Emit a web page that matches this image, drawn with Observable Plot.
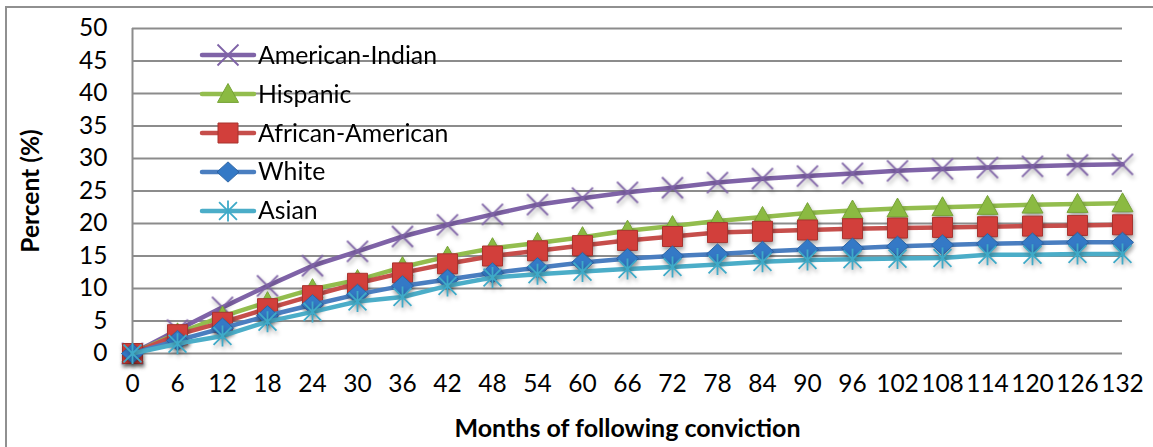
<!DOCTYPE html>
<html>
<head>
<meta charset="utf-8">
<script src="https://cdn.jsdelivr.net/npm/d3@7"></script>
<script src="https://cdn.jsdelivr.net/npm/@observablehq/plot@0.6"></script>
<style>
  html, body { margin: 0; padding: 0; background: #fff; overflow: hidden; }
  #wrap { position: relative; width: 1153px; height: 447px; font-family: Lato, "Open Sans", sans-serif; }
  #border { position: absolute; left: 5px; top: 6px; width: 1200px; height: 480px; border: 2px solid #909090; box-sizing: border-box; pointer-events: none; }
  #chart { position: absolute; left: 0; top: 0; }
  #legend { position: absolute; left: 199px; top: 36px; }
  .row { display: flex; align-items: center; height: 38.8px; }
  .row svg { display: block; overflow: visible; }
  .row span { font-size: 24.8px; color: #000; margin-left: 1px; line-height: 1; }
</style>
</head>
<body>
<div id="wrap">
  <div id="border"></div>
  <div id="chart"></div>
  <div id="legend"></div>
</div>
<script>
// ---- data ----
const months = [0, 6, 12, 18, 24, 30, 36, 42, 48, 54, 60, 66, 72, 78, 84, 90, 96, 102, 108, 114, 120, 126, 132];
const americanIndian = [0, 3.6, 7.1, 10.4, 13.5, 15.7, 18.0, 19.8, 21.4, 22.9, 23.9, 24.8, 25.5, 26.3, 26.9, 27.3, 27.7, 28.1, 28.4, 28.6, 28.8, 29.0, 29.1];
const hispanic       = [0, 3.1, 5.7, 7.9, 9.9, 11.3, 13.3, 14.9, 16.2, 17.0, 17.9, 18.9, 19.6, 20.4, 21.0, 21.6, 22.0, 22.3, 22.5, 22.7, 22.9, 23.0, 23.1];
const africanAmerican= [0, 2.9, 4.8, 6.9, 8.9, 10.8, 12.4, 13.8, 15.0, 15.8, 16.6, 17.4, 18.0, 18.6, 18.8, 19.0, 19.2, 19.3, 19.4, 19.5, 19.6, 19.7, 19.8];
const white          = [0, 2.0, 3.9, 5.8, 7.5, 9.1, 10.4, 11.4, 12.4, 13.2, 14.0, 14.6, 15.0, 15.3, 15.7, 16.0, 16.2, 16.5, 16.7, 16.9, 17.0, 17.1, 17.1];
const asian          = [0, 1.5, 2.7, 4.9, 6.4, 8.0, 8.7, 10.4, 11.7, 12.2, 12.6, 13.0, 13.3, 13.7, 14.1, 14.4, 14.5, 14.6, 14.7, 15.2, 15.2, 15.3, 15.3];
const seriesNames = ["American-Indian", "Hispanic", "African-American", "White", "Asian"];
const yTicks = [0, 5, 10, 15, 20, 25, 30, 35, 40, 45, 50];
const xTitle = "Months of following conviction";
const yTitle = "Percent (%)";

// ---- styles ----
const seriesValues = [americanIndian, hispanic, africanAmerican, white, asian];
const lineColors = ["#7F63A7", "#93BD4E", "#C64E4B", "#4A7EC0", "#4BADC8"];

function rOf(size) { return Math.sqrt(size / Math.PI); }
const symTimes = { draw(c, s) { const r = rOf(s); c.moveTo(-r, -r); c.lineTo(r, r); c.moveTo(-r, r); c.lineTo(r, -r); } };
const symTri = { draw(c, s) { const r = rOf(s); c.moveTo(0, -r); c.lineTo(r, r * 0.8); c.lineTo(-r, r * 0.8); c.closePath(); } };
const symSquare = { draw(c, s) { const r = rOf(s); c.rect(-r, -r, 2 * r, 2 * r); } };
const symDiamond = { draw(c, s) { const r = rOf(s); c.moveTo(0, -r * 0.92); c.lineTo(r, 0); c.lineTo(0, r * 0.92); c.lineTo(-r, 0); c.closePath(); } };
const symAst = { draw(c, s) { const r = rOf(s); const d = r * 0.85; c.moveTo(0, -r); c.lineTo(0, r); c.moveTo(-d, -d); c.lineTo(d, d); c.moveTo(-d, d); c.lineTo(d, -d); } };

const markerStyles = [
  { symbol: symTimes, r: 10.5, fill: "none", stroke: "#7F63A7", strokeWidth: 1.8 },
  { symbol: symTri, r: 10.5, fill: "#8BBA42", stroke: "#76A336", strokeWidth: 1 },
  { symbol: symSquare, r: 10, fill: "#D23F3B", stroke: "#A8342F", strokeWidth: 1 },
  { symbol: symDiamond, r: 11, fill: "#3479C6", stroke: "#2B63A3", strokeWidth: 1 },
  { symbol: symAst, r: 10.5, fill: "none", stroke: "#3EAAC8", strokeWidth: 1.8 }
];

const rows = seriesNames.map((name, i) => months.map((m, j) => ({ series: name, month: m, value: seriesValues[i][j] })));

const marks = [
  Plot.ruleY(yTicks, { stroke: "#8C8C8C", strokeWidth: 2 }),
  Plot.ruleX([0], { y1: 0, y2: 50, stroke: "#8C8C8C", strokeWidth: 2 }),
  Plot.axisY({ ticks: yTicks, tickSize: 0, tickPadding: 25, label: null, fontSize: 24.5 }),
  Plot.axisX({ ticks: months, tickFormat: d => String(d), tickSize: 0, tickPadding: 21, label: null, fontSize: 24.5 }),
  Plot.text([yTitle], { frameAnchor: "left", dx: -101, rotate: -90, textAnchor: "middle", lineAnchor: "middle", fontSize: 24.5, fontWeight: "bold", fill: "#000" }),
  Plot.text([xTitle], { frameAnchor: "bottom", dy: 75, textAnchor: "middle", lineAnchor: "middle", fontSize: 25, fontWeight: "bold", fill: "#000" })
];
rows.forEach((data, i) => {
  marks.push(Plot.line(data, { x: "month", y: "value", stroke: lineColors[i], strokeWidth: 4.5, strokeLinejoin: "round", strokeLinecap: "round" }));
  const ms = markerStyles[i];
  marks.push(Plot.dot(data, { x: "month", y: "value", symbol: ms.symbol, r: ms.r, fill: ms.fill, stroke: ms.stroke, strokeWidth: ms.strokeWidth, className: "mk" }));
});

const chart = Plot.plot({
  width: 1153,
  height: 447,
  marginLeft: 132,
  marginRight: 31,
  marginTop: 28,
  marginBottom: 94,
  x: { type: "linear", domain: [0, 132] },
  y: { domain: [0, 50] },
  style: { fontFamily: "Lato, 'Open Sans', sans-serif", color: "#000", background: "transparent", overflow: "visible" },
  marks
});
chart.querySelectorAll(".mk").forEach(g => { g.style.filter = "drop-shadow(1px 3px 2px rgba(0,0,0,0.35))"; });
document.getElementById("chart").appendChild(chart);

// ---- legend ----
const legend = document.getElementById("legend");
seriesNames.forEach((name, i) => {
  const ms = markerStyles[i];
  const p = d3.path();
  ms.symbol.draw(p, Math.PI * ms.r * ms.r);
  const row = document.createElement("div");
  row.className = "row";
  row.innerHTML =
    `<svg width="58" height="24" viewBox="0 0 58 24">
       <line x1="3" y1="12" x2="55" y2="12" stroke="${lineColors[i]}" stroke-width="4.5" stroke-linecap="round"/>
       <path transform="translate(29,12)" d="${p.toString()}" fill="${ms.fill}" stroke="${ms.stroke}" stroke-width="${ms.strokeWidth}"/>
     </svg><span>${name}</span>`;
  legend.appendChild(row);
});
</script>
</body>
</html>
